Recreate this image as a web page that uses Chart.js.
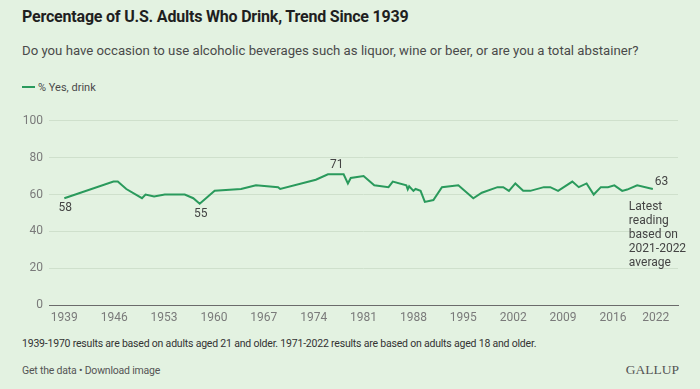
<!DOCTYPE html>
<html>
<head>
<meta charset="utf-8">
<script src="https://cdn.jsdelivr.net/npm/chart.js@4.4.1/dist/chart.umd.min.js"></script>
<style>
  html, body { margin: 0; padding: 0; }
  body { width: 700px; height: 389px; background: #e3f2e1; position: relative; overflow: hidden; font-family: Roboto, "Noto Sans", sans-serif; }
  .t { position: absolute; white-space: nowrap; }
  #title { left: 22px; top: 7px; font-size: 16px; font-weight: bold; color: #1f1f1f; letter-spacing: -0.2px; }
  #sub { left: 22px; top: 43px; font-size: 13.2px; color: #4a4a4a; }
  #legend { left: 22px; top: 81px; font-size: 11px; color: #4a4a4a; }
  #legend span { display: inline-block; width: 13px; height: 2px; background: #2a9a5c; vertical-align: middle; margin-right: 3px; position: relative; top: -1px; }
  #note { left: 22px; top: 337px; font-size: 10.5px; color: #333; letter-spacing: -0.2px; }
  #links { left: 22px; top: 364px; font-size: 10.5px; color: #555; letter-spacing: -0.2px; }
  #brand { right: 21px; top: 362px; font-size: 13.5px; color: #555; font-family: "Liberation Serif", "DejaVu Serif", serif; }
  #wrap { position: absolute; left: 0; top: 105px; width: 700px; height: 230px; }
</style>
</head>
<body>
<div class="t" id="title">Percentage of U.S. Adults Who Drink, Trend Since 1939</div>
<div class="t" id="sub">Do you have occasion to use alcoholic beverages such as liquor, wine or beer, or are you a total abstainer?</div>
<div class="t" id="legend"><span></span>% Yes, drink</div>
<div id="wrap"><canvas id="chart"></canvas></div>
<div class="t" id="note">1939-1970 results are based on adults aged 21 and older. 1971-2022 results are based on adults aged 18 and older.</div>
<div class="t" id="links">Get the data • Download image</div>
<div class="t" id="brand">GALLUP</div>

<script>
// survey dates (decimal years) and % saying yes, they drink
var years = [1939.0, 1945.9, 1946.5, 1947.7, 1949.9, 1950.4, 1951.6, 1953.1, 1955.9, 1957.1,
    1958.0, 1960.1, 1963.8, 1965.9, 1969.0, 1969.3, 1974.3, 1976.0, 1978.2, 1978.8,
    1979.2, 1981.0, 1982.5, 1984.5, 1985.1, 1987.0, 1987.2, 1987.4, 1988.0, 1988.3,
    1989.0, 1989.6, 1990.8, 1992.0, 1994.3, 1996.4, 1997.6, 1999.8, 2000.6, 2001.4,
    2002.3, 2003.4, 2004.4, 2006.3, 2007.2, 2008.3, 2010.3, 2011.2, 2012.3, 2013.3,
    2014.3, 2015.3, 2016.2, 2017.3, 2018.0, 2019.4, 2021.6];
var yesDrink = [58, 67, 67, 63, 58, 60, 59, 60, 60, 58,
    55, 62, 63, 65, 64, 63, 68, 71, 71, 66,
    69, 70, 65, 64, 67, 65, 62.8, 64.5, 62, 63,
    62, 56, 57, 64, 65, 58, 61, 64, 64, 62,
    66, 62, 62, 64, 64, 62, 67, 64, 66, 60,
    64, 64, 65, 62, 62.7, 65, 63];
var xTicks = [1939, 1946, 1953, 1960, 1967, 1974, 1981, 1988, 1995, 2002, 2009, 2016, 2022];
var yTicks = [0, 20, 40, 60, 80, 100];
var latestNote = ["Latest", "reading", "based on", "2021-2022", "average"];

var green = "#2a9a5c";
var labelFont = "12px Roboto, sans-serif";

var points = [];
for (var i = 0; i < years.length; i++) {
    points.push({x: years[i], y: yesDrink[i]});
}

// value labels: first, lowest, highest, latest
var pointLabels = {
    id: "pointLabels",
    afterDatasetsDraw: function(chart) {
        var ctx = chart.ctx;
        var xs = chart.scales.x, ys = chart.scales.y;
        var n = yesDrink.length;
        var minV = Math.min.apply(null, yesDrink), maxV = Math.max.apply(null, yesDrink);
        var iMin = yesDrink.indexOf(minV);
        var iMax = yesDrink.indexOf(maxV), iMax2 = yesDrink.lastIndexOf(maxV);
        ctx.save();
        ctx.font = labelFont;
        ctx.fillStyle = "#444";
        ctx.textBaseline = "middle";
        ctx.textAlign = "center";
        ctx.fillText(String(yesDrink[0]), xs.getPixelForValue(years[0]) + 1, ys.getPixelForValue(yesDrink[0]) + 10);
        ctx.fillText(String(minV), xs.getPixelForValue(years[iMin]) + 1, ys.getPixelForValue(minV) + 10);
        var mx = (xs.getPixelForValue(years[iMax]) + xs.getPixelForValue(years[iMax2])) / 2 + 1;
        ctx.fillText(String(maxV), mx, ys.getPixelForValue(maxV) - 9);
        var lx = xs.getPixelForValue(years[n - 1]), ly = ys.getPixelForValue(yesDrink[n - 1]);
        ctx.textAlign = "left";
        ctx.fillText(String(yesDrink[n - 1]), lx + 2, ly - 7);
        for (var j = 0; j < latestNote.length; j++) {
            ctx.fillText(latestNote[j], lx - 24, ly + 18 + j * 14);
        }
        ctx.restore();
    }
};

new Chart(document.getElementById("chart"), {
    type: "line",
    data: {
        datasets: [{
            label: "% Yes, drink",
            data: points,
            borderColor: green,
            borderWidth: 2,
            pointRadius: 0,
            tension: 0,
            fill: false
        }]
    },
    options: {
        responsive: true,
        maintainAspectRatio: false,
        animation: false,
        layout: {padding: {left: 0, right: 22, top: 15.7, bottom: 0}},
        plugins: {legend: {display: false}, tooltip: {enabled: false}},
        scales: {
            x: {
                type: "linear",
                min: 1936.85,
                max: 2025.13,
                afterBuildTicks: function(scale) {
                    scale.ticks = xTicks.map(function(v) { return {value: v}; });
                },
                afterFit: function(scale) { scale.height = 29.7; },
                grid: {display: false, drawTicks: false},
                border: {display: true, color: "#6b6b6b", width: 1},
                ticks: {
                    padding: 5,
                    color: "#7a7a7a",
                    font: {family: "Roboto", size: 12},
                    maxRotation: 0,
                    autoSkip: false,
                    callback: function(v) { return String(v); }
                }
            },
            y: {
                min: 0,
                max: 100,
                afterBuildTicks: function(scale) {
                    scale.ticks = yTicks.map(function(v) { return {value: v}; });
                },
                afterFit: function(scale) { scale.width = 49; },
                grid: {color: "#cfe0cc", drawTicks: false},
                border: {display: false},
                ticks: {
                    padding: 6,
                    color: "#7a7a7a",
                    font: {family: "Roboto", size: 12}
                }
            }
        }
    },
    plugins: [pointLabels]
});
</script>
</body>
</html>
